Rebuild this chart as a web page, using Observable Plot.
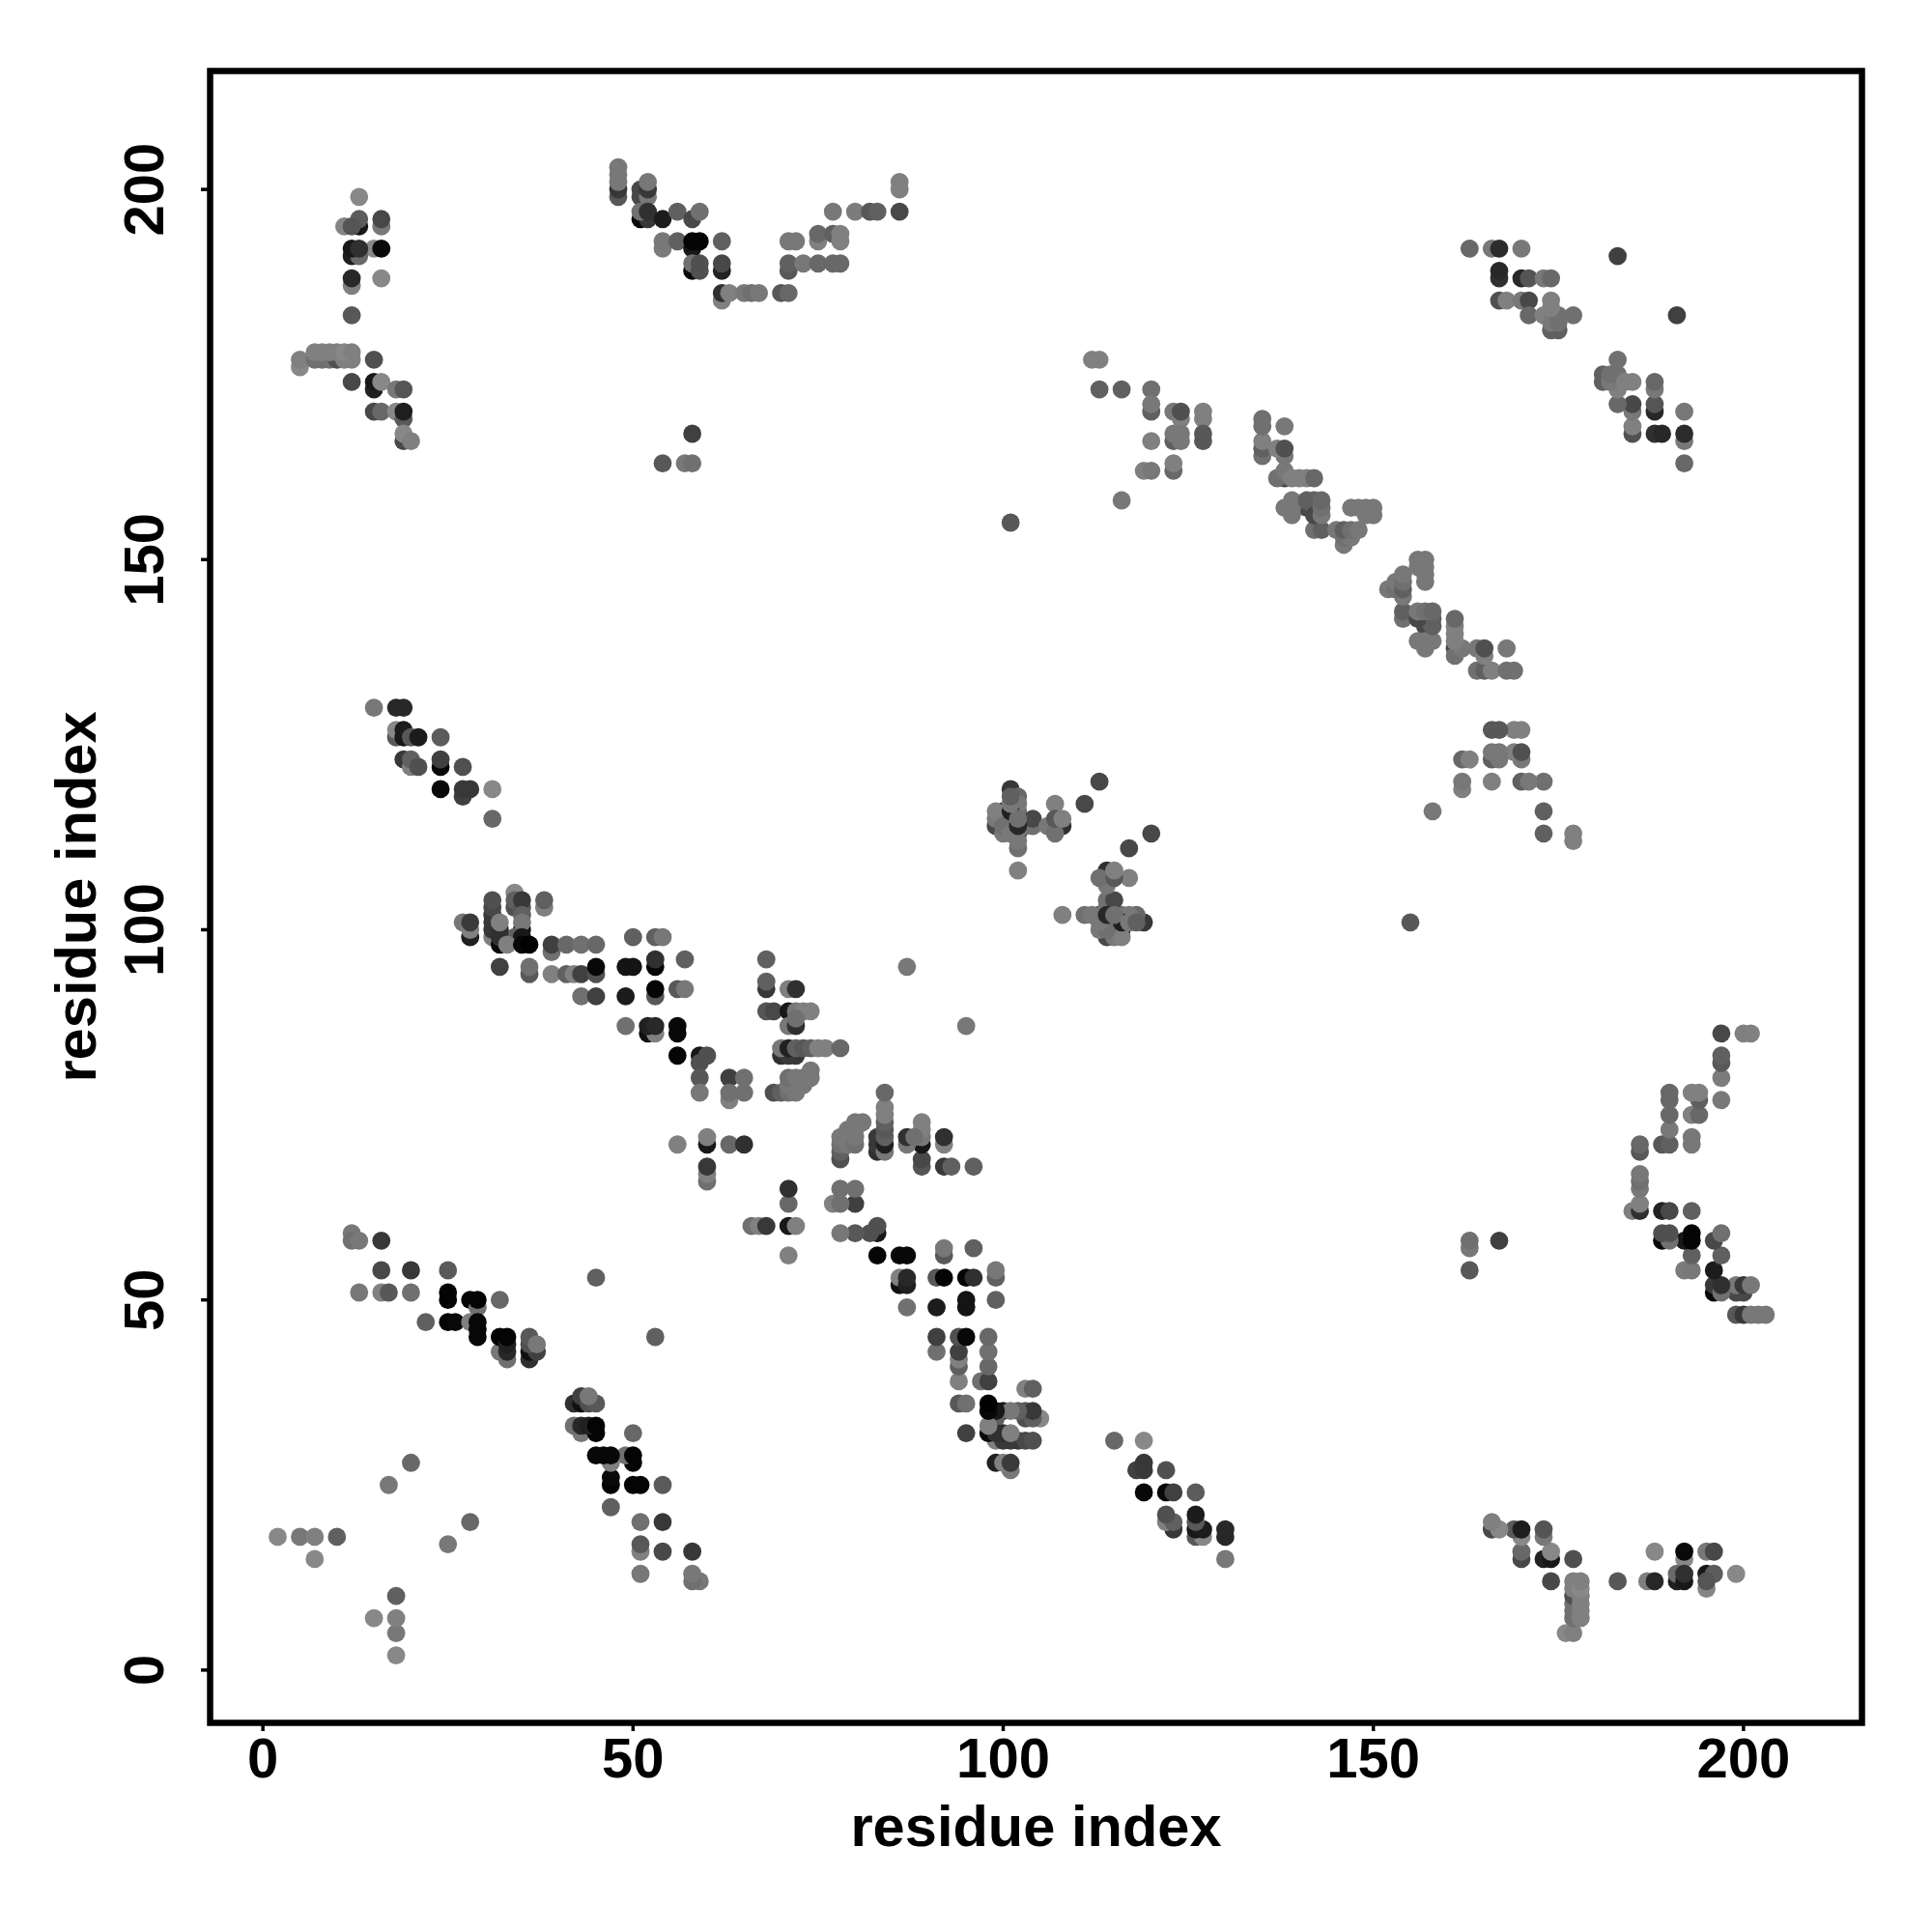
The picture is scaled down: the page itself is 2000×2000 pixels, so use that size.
<!DOCTYPE html>
<html>
<head>
<meta charset="utf-8">
<script src="https://cdn.jsdelivr.net/npm/d3@7"></script>
<script src="https://cdn.jsdelivr.net/npm/@observablehq/plot@0.6"></script>
<style>html,body{margin:0;padding:0;background:#fff}</style>
</head>
<body>
<div id="chart"></div>
<script>
// Each entry: [residue i, residue j, grey level]
const clusterA = [[13,199,0x88],[13,195,0x18],[13,196,0x5c],[16,195,0x78],[16,196,0x48],[11,195,0x85],[12,195,0x55],
[15,192,0x88],[16,192,0x0a],[12,191,0x20],[13,191,0x6a],[12,192,0x18],[13,192,0x30],[12,187,0x80],[12,188,0x28],[16,188,0x88],[12,183,0x58],
[5,176,0x88],[5,177,0x80],[7,177,0x70],[8,177,0x70],[9,177,0x70],[10,177,0x50],[11,177,0x80],[12,177,0x80],[7,178,0x80],[8,178,0x80],[9,178,0x80],[10,178,0x80],[11,178,0x88],[12,178,0x80],[15,177,0x50],
[12,174,0x48],[15,173,0x22],[15,174,0x18],[16,174,0x88],[18,173,0x78],[19,173,0x55],[15,170,0x48],[16,170,0x68],[18,170,0x88],[19,169,0x5a],[19,170,0x1e],[19,166,0x48],[19,167,0x88],[20,166,0x80]];
const clusterB = [[48,199,0x58],[48,200,0x38],[48,201,0x78],[48,202,0x78],[48,203,0x78],[51,199,0x48],[51,200,0x48],[52,199,0x78],[52,200,0x38],[52,201,0x78],
[51,196,0x08],[52,196,0x38],[51,197,0x70],[52,197,0x30],[54,196,0x1c],[56,197,0x60],[58,196,0x48],[59,197,0x70],
[54,192,0x7c],[54,193,0x78],[56,193,0x60],[58,192,0x18],[58,193,0x05],[59,193,0x05],[62,193,0x60],
[58,189,0x08],[58,190,0x70],[59,189,0x50],[59,190,0x50],[62,189,0x22],[62,190,0x48],
[62,185,0x80],[62,186,0x30],[63,186,0x80],[65,186,0x78],[66,186,0x70],[67,186,0x78],[70,186,0x58],[71,186,0x68],
[71,189,0x58],[71,190,0x60],[73,190,0x78],[75,190,0x68],[77,190,0x68],[78,190,0x68],[71,193,0x78],[72,193,0x78],[75,193,0x80],[75,194,0x68],[77,194,0x60],[78,193,0x80],[78,194,0x80],
[77,197,0x78],[80,197,0x7c],[82,197,0x58],[83,197,0x60],[86,197,0x48],[86,200,0x80],[86,201,0x80],
[58,167,0x40],[54,163,0x58],[57,163,0x78],[58,163,0x70]];
const clusterC = [[101,155,0x58],[112,177,0x80],[113,177,0x80],[113,173,0x60],[116,173,0x60],[120,173,0x70],[120,170,0x60],[120,171,0x78],[123,170,0x78],[124,169,0x80],[124,170,0x50],[127,169,0x80],[127,170,0x80],
[123,166,0x60],[124,166,0x78],[123,167,0x78],[124,167,0x78],[127,166,0x58],[127,167,0x58],[120,166,0x80],[119,162,0x80],[120,162,0x78],[123,162,0x68],[123,163,0x80],[116,158,0x78],
[135,164,0x70],[135,165,0x60],[135,166,0x80],[135,168,0x70],[135,169,0x70],[138,168,0x78],[138,164,0x78],[137,165,0x80],[138,165,0x50],
[138,161,0x48],[137,161,0x70],[138,162,0x78],[139,161,0x80],[140,161,0x80],[141,161,0x80],[142,161,0x68],
[141,157,0x48],[138,157,0x78],[139,157,0x78],[139,158,0x78],[142,157,0x68],[141,158,0x60],[142,158,0x60],[147,157,0x78],[149,156,0x78],[150,156,0x78],[149,157,0x78],[150,157,0x78],
[142,154,0x70],[143,154,0x60],[145,154,0x78],[146,152,0x78],[146,153,0x70],[147,153,0x78],[146,154,0x60],[147,154,0x70],[148,154,0x78]];
const clusterD = [[152,146,0x78],[153,147,0x78],[153,146,0x70],[154,145,0x78],[154,146,0x60],[154,147,0x70],[154,148,0x80],[154,142,0x78],[154,143,0x60],
[156,149,0x50],[156,150,0x80],[157,147,0x80],[157,148,0x78],[157,149,0x70],[157,150,0x78],
[156,142,0x48],[157,142,0x70],[158,142,0x70],[156,143,0x78],[157,143,0x70],[158,143,0x68],[157,138,0x80],[156,139,0x78],[157,139,0x78],[158,139,0x78],
[161,138,0x38],[161,137,0x70],[161,139,0x80],[161,140,0x80],[161,141,0x78],[161,142,0x68],[162,138,0x80],[164,138,0x80],[165,137,0x70],[165,138,0x58],[168,138,0x80],
[164,135,0x78],[165,135,0x60],[166,135,0x80],[168,135,0x70],[169,135,0x70]];
const clusterE = [[163,192,0x68],[166,192,0x78],[167,192,0x2c],[170,192,0x78],[183,191,0x40],[167,188,0x30],[167,189,0x28],[170,188,0x28],[171,188,0x55],[173,188,0x78],[174,188,0x68],
[167,185,0x50],[168,185,0x80],[170,185,0x78],[171,185,0x48],[174,185,0x80],[174,183,0x30],[171,183,0x68],[173,183,0x80],[174,181,0x60],[175,181,0x60],[174,182,0x78],[175,182,0x70],[175,183,0x70],[177,183,0x70],[191,183,0x48],
[181,174,0x60],[181,175,0x60],[182,174,0x70],[182,175,0x78],[183,174,0x30],[183,173,0x80],[183,175,0x68],[183,177,0x70],[184,174,0x80],[185,174,0x78],[188,173,0x78],[188,174,0x68],
[183,171,0x68],[185,170,0x78],[185,171,0x48],[188,170,0x18],[188,171,0x58],[192,170,0x70],[185,167,0x48],[185,168,0x88],[188,167,0x2c],[189,167,0x2c],[192,166,0x68],[192,167,0x2a],[192,163,0x68]];
const clusterF = [[15,130,0x78],[18,130,0x28],[19,130,0x28],[18,126,0x58],[18,127,0x88],[19,126,0x18],[19,127,0x1c],[20,126,0x58],[21,126,0x1c],[24,126,0x5c],
[19,123,0x38],[20,122,0x80],[20,123,0x60],[21,122,0x50],[24,122,0x08],[24,123,0x40],[27,122,0x50],[24,119,0x08],[27,118,0x40],[27,119,0x38],[28,119,0x38],[31,119,0x88],[31,115,0x68]];
const clusterG = [[34,105,0x88],[34,103,0x50],[34,104,0x60],[35,103,0x58],[35,104,0x38],[38,103,0x80],[38,104,0x60],[31,99,0x80],[31,100,0x38],[31,101,0x38],[31,102,0x38],[31,103,0x48],[31,104,0x50],
[35,102,0x60],[35,100,0x18],[35,101,0x78],[34,99,0x60],[35,99,0x18],[32,98,0x0a],[32,99,0x30],[32,100,0x30],[32,101,0x80],[33,98,0x80],
[28,99,0x20],[27,101,0x78],[28,100,0x80],[28,101,0x3a],[35,98,0x08],[36,98,0x02],[39,97,0x70],[39,98,0x40],[41,98,0x68],[43,98,0x70],[45,98,0x68],
[50,99,0x60],[53,99,0x60],[54,99,0x78],[53,95,0x05],[53,96,0x30],[57,96,0x60],[49,95,0x14],[50,95,0x14],[32,95,0x40],[36,94,0x58],[36,95,0x70],
[39,94,0x80],[41,94,0x60],[42,94,0x80],[43,94,0x40],[45,94,0x50],[45,95,0x08],[43,91,0x70],[45,91,0x40],[49,91,0x1c],[53,91,0x58],[53,92,0x05],[56,92,0x58],[57,92,0x78],
[49,87,0x70],[52,86,0x10],[53,86,0x80],[52,87,0x20],[53,87,0x28],[56,86,0x08],[56,87,0x08],[56,83,0x05],[59,83,0x18],[60,83,0x50]];
const clusterH = [[68,96,0x60],[87,95,0x78],[68,92,0x38],[68,93,0x60],[71,92,0x80],[72,92,0x30],[68,89,0x55],[69,89,0x48],[71,89,0x18],[72,89,0x78],[73,89,0x80],[74,89,0x80],[71,87,0x78],[72,87,0x30],[72,88,0x70],
[70,83,0x30],[71,83,0x38],[72,83,0x38],[70,84,0x78],[71,84,0x20],[72,84,0x60],[73,84,0x58],[74,84,0x60],[75,84,0x80],[76,84,0x80],[78,84,0x68],
[59,82,0x50],[59,80,0x58],[59,78,0x78],[63,80,0x40],[65,80,0x70],[63,77,0x80],[63,78,0x70],[65,78,0x70],
[69,78,0x50],[70,78,0x60],[71,78,0x70],[72,78,0x78],[71,79,0x78],[72,79,0x78],[73,79,0x78],[71,80,0x70],[72,80,0x78],[73,80,0x78],[74,80,0x78],[74,81,0x78],
[60,71,0x18],[60,72,0x80],[56,71,0x80],[63,71,0x68],[65,71,0x30],[60,66,0x70],[60,67,0x80],[60,68,0x38],
[66,60,0x78],[67,60,0x80],[68,60,0x38]];
const clusterI = [[78,70,0x60],[78,71,0x80],[78,72,0x70],[79,72,0x78],[80,71,0x58],[80,72,0x60],[79,73,0x78],[80,73,0x78],[80,74,0x78],[81,74,0x70],
[83,71,0x30],[83,72,0x38],[84,71,0x70],[84,72,0x60],[84,73,0x48],[84,74,0x58],[84,75,0x80],[84,76,0x80],[84,78,0x68],
[87,72,0x28],[87,71,0x70],[88,72,0x70],[89,72,0x18],[89,73,0x70],[89,74,0x80],[92,71,0x70],[92,72,0x30],[89,68,0x48],[89,69,0x38],[92,68,0x38],[93,68,0x50],[96,68,0x60],
[78,65,0x78],[80,65,0x70],[77,63,0x80],[78,63,0x70],[80,63,0x50],[78,59,0x80],[80,59,0x58],[82,59,0x58],[83,59,0x10],[83,60,0x50],[83,56,0x02],[86,56,0x05],[87,56,0x05],[92,56,0x60],[92,57,0x78],[96,57,0x60]];
const clusterJ = [[113,120,0x48],[111,117,0x48],[107,117,0x80],[101,119,0x38],[102,118,0x68],[120,113,0x48],[117,111,0x48],[102,111,0x70],[102,108,0x80],
[100,115,0x18],[100,116,0x18],[101,114,0x18],[101,115,0x18],[102,113,0x30],[99,114,0x48],[99,115,0x78],[99,116,0x80],[100,113,0x78],[100,114,0x70],[102,112,0x78],[101,113,0x78],[102,116,0x70],[102,117,0x78],[103,114,0x78],[104,114,0x70],[104,115,0x48],
[107,114,0x10],[108,114,0x30],[106,114,0x78],[107,113,0x70],[107,115,0x58],[108,115,0x80],[108,102,0x80],[111,102,0x70]];
const clusterK = [[114,107,0x08],[113,107,0x70],[115,107,0x60],[114,108,0x30],[115,108,0x80],[117,107,0x78],[114,106,0x70],[114,103,0x80],[114,104,0x80],[115,104,0x48],
[114,102,0x28],[115,101,0x20],[116,101,0x20],[115,100,0x28],[113,102,0x78],[114,101,0x78],[114,100,0x70],[115,99,0x78],[116,99,0x78],[115,102,0x70],[116,100,0x78],[116,102,0x78],[117,101,0x78],[118,102,0x60],[118,101,0x60],[119,101,0x2c]];
const clusterL = [[12,59,0x78],[12,58,0x70],[13,58,0x78],[16,58,0x38],[16,54,0x48],[20,54,0x38],[25,54,0x5a],[13,51,0x78],[16,51,0x80],[17,51,0x58],[20,51,0x70],
[25,50,0x04],[25,51,0x04],[28,50,0x04],[29,49,0x70],[29,50,0x04],[32,50,0x68],[22,47,0x60],[25,47,0x04],[26,47,0x0a],[28,47,0x80],[29,45,0x08],[29,46,0x08],[29,47,0x08],
[32,43,0x78],[32,45,0x04],[33,42,0x70],[33,43,0x28],[33,44,0x20],[33,45,0x04],[36,42,0x30],[36,43,0x10],[37,43,0x40],[36,44,0x50],[36,45,0x58],[37,44,0x78],[45,53,0x60]];
const clusterM = [[42,36,0x28],[43,37,0x58],[43,36,0x10],[44,37,0x70],[44,36,0x30],[45,36,0x58],[43,32,0x70],[42,33,0x80],[43,33,0x30],[44,33,0x18],[45,32,0x08],[45,33,0x00],
[47,28,0x70],[45,29,0x08],[46,29,0x10],[47,29,0x00],[49,29,0x70],[50,28,0x00],[50,29,0x00],[47,25,0x00],[47,26,0x08],[50,25,0x00],[51,25,0x04],[54,25,0x50],[47,22,0x60],[50,32,0x60],
[51,20,0x70],[54,20,0x38],[51,16,0x78],[51,17,0x5c],[54,16,0x48],[58,16,0x30],[51,13,0x78],[58,13,0x78],[58,12,0x78],[59,12,0x78]];
const clusterN = [[20,28,0x68],[17,25,0x78],[2,18,0x88],[5,18,0x78],[7,18,0x80],[10,18,0x60],[7,15,0x88],[28,20,0x68],[25,17,0x80],[18,10,0x60],[15,7,0x80],[18,7,0x80],[18,5,0x80],[18,2,0x80],
[163,58,0x70],[163,57,0x70],[167,58,0x40],[163,54,0x55]];

const readContacts = [clusterA,clusterB,clusterC,clusterD,clusterE,clusterF,clusterG,clusterH,clusterI,clusterJ,clusterK,clusterL,clusterM,clusterN].flat();
// A contact map lists each residue pair in both orders.
const seen = new Set();
const pairs = [];
for (const [i,j,g] of readContacts) {
  const key = Math.min(i,j)+"-"+Math.max(i,j);
  if (seen.has(key)) continue;
  seen.add(key);
  pairs.push({x:i,y:j,g},{x:j,y:i,g});
}
const tickValues = [0,50,100,150,200];
const font = "'Liberation Sans', Arimo, Helvetica, Arial, sans-serif";

const chart = Plot.plot({
  width: 2000, height: 2000,
  marginLeft: 217, marginRight: 73, marginTop: 73, marginBottom: 217,
  style: {fontFamily: font, fontWeight: "bold", fontSize: "58px", background: "#fff", color: "#000"},
  x: {domain: [-7.13, 216.0]},
  y: {domain: [-7.13, 216.0]},
  color: {type: "identity"},
  marks: [
    Plot.dot(pairs, {x:"x", y:"y", r:9.4, fill: d => `rgb(${d.g},${d.g},${d.g})`}),
    Plot.frame({stroke:"#000", strokeWidth:6.5}),
    Plot.axisX({ticks: tickValues, tickSize: 9, strokeWidth: 3.5, tickPadding: 6, label: null, fontSize: 58}),
    Plot.axisY({ticks: tickValues, tickSize: 9, strokeWidth: 3.5, tickPadding: 40, tickRotate: -90, label: null, fontSize: 58}),
    Plot.axisX({ticks: [], tickSize: 0, label: "residue index", labelAnchor: "center", labelArrow: "none", labelOffset: 127, fontSize: 59.6}),
    Plot.axisY({ticks: [], tickSize: 0, label: "residue index", labelAnchor: "center", labelArrow: "none", labelOffset: 161, fontSize: 59.6})
  ]
});
document.getElementById("chart").appendChild(chart);
</script>
</body>
</html>
